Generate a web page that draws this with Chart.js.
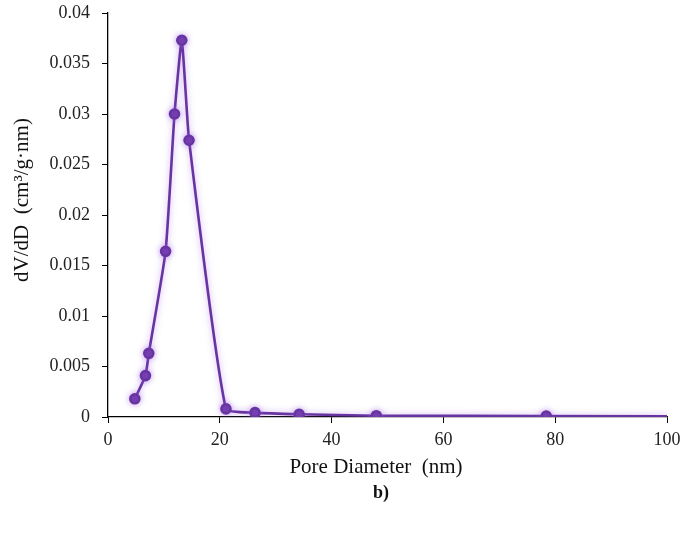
<!DOCTYPE html>
<html>
<head>
<meta charset="utf-8">
<title>Pore size distribution</title>
<script src="https://cdn.jsdelivr.net/npm/chart.js@4.4.1/dist/chart.umd.min.js"></script>
<style>
  html, body { margin: 0; padding: 0; background: #fff; }
  canvas { display: block; }
</style>
</head>
<body>
<canvas id="psd" width="680" height="537"></canvas>
<script>
// pore diameter (nm) and dV/dD (cm3/g·nm)
const poreDiameter = [4.8, 6.7, 7.3, 10.3, 11.9, 13.2, 14.5, 21.1, 26.3, 34.2, 48.0, 78.4, 130];
const dVdD = [0.0018, 0.0041, 0.0063, 0.0164, 0.0300, 0.0373, 0.0274, 0.0008, 0.00043, 0.00027, 0.00013, 0.0001, 0.00003];
const xTicks = [0, 20, 40, 60, 80, 100];
const yTickLabels = ['0', '0.005', '0.01', '0.015', '0.02', '0.025', '0.03', '0.035', '0.04'];

const serif = "'Liberation Serif', 'Times New Roman', serif";
const purple = '#6834a2';

// soft glow under the line, like the office-chart effect
const glow = {
  id: 'glow',
  beforeDatasetsDraw(chart){
    const c = chart.ctx;
    c.save();
    c.shadowColor = 'rgba(160,100,230,0.55)';
    c.shadowBlur = 6;
  },
  afterDatasetsDraw(chart){ chart.ctx.restore(); }
};

// axis titles and the panel letter, placed by hand
const labels = {
  id: 'labels',
  afterDraw(chart){
    const c = chart.ctx;
    c.save();
    c.fillStyle = '#111';
    c.textAlign = 'center';
    c.textBaseline = 'middle';
    c.font = '21px ' + serif;
    c.fillText('Pore Diameter  (nm)', 376, 467);
    c.save();
    c.translate(22, 200);
    c.rotate(-Math.PI / 2);
    c.fillText('dV/dD  (cm³/g·nm)', 0, 0);
    c.restore();
    c.font = 'bold 18px ' + serif;
    c.fillText('b)', 381, 493);
    c.restore();
  }
};

new Chart(document.getElementById('psd'), {
  type: 'line',
  data: {
    datasets: [{
      data: poreDiameter.map((x, i) => ({x, y: dVdD[i]})),
      borderColor: purple,
      backgroundColor: purple,
      borderWidth: 2.6,
      pointRadius: 4.5,
      pointHoverRadius: 4.5,
      pointStyle: 'circle',
      tension: 0.15,
      fill: false
    }]
  },
  options: {
    responsive: false,
    animation: false,
    layout: { padding: { top: 13, right: 13, bottom: 60, left: 0 } },
    plugins: { legend: { display: false }, tooltip: { enabled: false } },
    scales: {
      x: {
        type: 'linear',
        min: 0, max: 100,
        afterBuildTicks(scale){ scale.ticks = xTicks.map(v => ({value: v})); },
        afterFit(scale){ scale.height = 60; scale.paddingLeft = 0; scale.paddingRight = 0; },
        grid: { drawOnChartArea: false, drawTicks: true, tickLength: 6, color: '#000' },
        border: { color: '#000', width: 1.3 },
        ticks: { color: '#222', padding: 6, font: { family: serif, size: 18 } }
      },
      y: {
        min: 0, max: 0.04,
        afterBuildTicks(scale){ scale.ticks = yTickLabels.map((t, i) => ({value: i * 0.005})); },
        afterFit(scale){ scale.width = 108; scale.paddingTop = 0; scale.paddingBottom = 0; },
        grid: { drawOnChartArea: false, drawTicks: true, tickLength: 6, color: '#000' },
        border: { color: '#000', width: 1.3 },
        ticks: {
          color: '#222', padding: 12, font: { family: serif, size: 18 },
          callback: (v, i) => yTickLabels[i]
        }
      }
    }
  },
  plugins: [glow, labels]
});
</script>
</body>
</html>
